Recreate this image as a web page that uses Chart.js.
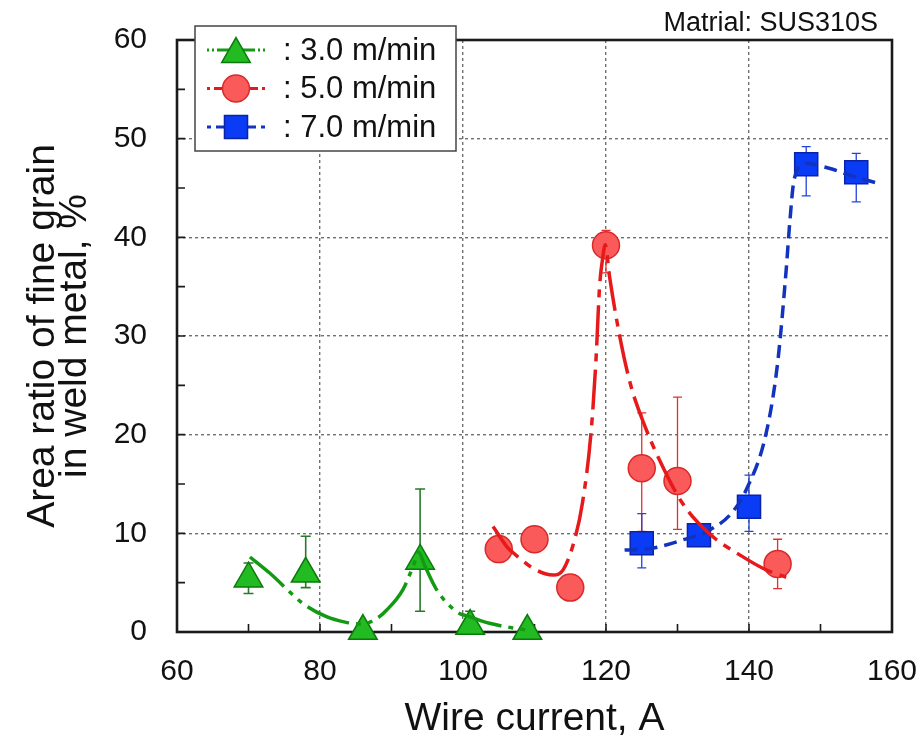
<!DOCTYPE html>
<html lang="en">
<head>
<meta charset="UTF-8" />
<title>Area ratio of fine grain vs wire current</title>
<script src="https://cdn.jsdelivr.net/npm/chart.js"></script>
<style>
  body { margin: 0; background: #fff; }
  .chart-box { width: 924px; height: 745px; }
</style>
</head>
<body>
<div class="chart-box"><canvas id="grainChart"></canvas></div>
<script>
// axis ticks
const xTicks = [60, 80, 100, 120, 140, 160];
const yTicks = [0, 10, 20, 30, 40, 50, 60];

// measured points, wire feed 3.0 m/min
const x30 = [70, 78, 86, 94, 101, 109];
const y30 = [5.4, 5.9, 0.1, 7.2, 0.6, 0.1];
const lo30 = [3.9, 4.5, null, 2.1, 0, null];
const hi30 = [7.0, 9.7, null, 14.5, 2.1, null];

// measured points, wire feed 5.0 m/min
const x50 = [105, 110, 115, 120, 125, 130, 144];
const y50 = [8.4, 9.4, 4.5, 39.2, 16.6, 15.3, 6.9];
const lo50 = [null, null, null, 36.4, 10.2, 10.4, 4.4];
const hi50 = [null, null, null, 40.7, 22.2, 23.8, 9.4];

// measured points, wire feed 7.0 m/min
const x70 = [125, 133, 140, 148, 155];
const y70 = [9.0, 9.8, 12.7, 47.4, 46.6];
const lo70 = [6.5, null, 10.2, 44.2, 43.6];
const hi70 = [12.0, null, 15.9, 49.2, 48.5];

// hand-drawn trend curves
const fit30X = [70.2, 73.0, 77.6, 80.9, 83.5, 85.9, 88.0, 89.3, 91.6, 93.2, 93.8, 94.6, 96.3, 99.1, 100.9, 103.7, 108.8];
const fit30Y = [7.6, 5.95, 2.9, 1.55, 1.0, 0.8, 1.4, 2.2, 4.3, 7.0, 8.1, 6.8, 4.3, 2.06, 1.55, 0.88, 0.2];
const fit50X = [104.2, 106.3, 107.4, 109.8, 112.6, 114.0, 115.6, 116.7, 117.9, 118.6, 119.1, 119.5, 119.9, 120.5, 122.1, 123.5, 125.1, 127.5, 130.7, 134.4, 139.1, 142.4, 145.2];
const fit50Y = [10.7, 8.5, 7.8, 6.46, 5.78, 6.3, 9.33, 13.05, 20.15, 27.6, 35.0, 37.7, 39.25, 36.0, 29.3, 24.9, 21.5, 17.4, 13.05, 10.0, 7.64, 6.3, 5.55];
const fit70X = [122.6, 126.5, 130.7, 134.4, 137.5, 139.6, 142.4, 144.0, 145.2, 145.7, 146.3, 147.9, 151.2, 154.5, 157.9];
const fit70Y = [8.3, 8.5, 9.33, 10.3, 12.0, 14.4, 20.15, 27.25, 36.7, 41.5, 45.8, 47.5, 47.0, 46.2, 45.5];

const seriesLabels = [': 3.0 m/min', ': 5.0 m/min', ': 7.0 m/min'];

const FONT = "'Liberation Sans', Arial, sans-serif";
const toPts = (xs, ys) => xs.map((x, i) => ({ x: x, y: ys[i] }));

const styles = [
  { line: '#129a12', fill: '#22bb22', edge: '#0b7a0b', err: '#2a7a2a', shape: 'triangle', r: 16.5, dash: [45, 7, 5, 7, 5, 7], legendDash: [2, 3, 2, 3, 40] },
  { line: '#e61a1a', fill: '#fa5a5a', edge: '#d82a2a', err: '#e23030', shape: 'circle', r: 13.5, dash: [40, 8, 8, 8], legendDash: [3, 4, 40] },
  { line: '#1233c0', fill: '#0a3cf5', edge: '#0a23a8', err: '#2244dd', shape: 'rect', r: 16.3, dash: [13, 7], legendDash: [4, 5, 8, 40] }
];

const errorSets = [
  { xs: x30, lo: lo30, hi: hi30, color: styles[0].err, width: 1.6, cap: 5 },
  { xs: x50, lo: lo50, hi: hi50, color: styles[1].err, width: 1.3, cap: 4.5 },
  { xs: x70, lo: lo70, hi: hi70, color: styles[2].err, width: 1.3, cap: 4.5 }
];

function drawMarker(ctx, shape, x, y, r) {
  ctx.beginPath();
  if (shape === 'triangle') {
    ctx.moveTo(x, y - r);
    ctx.lineTo(x + r * 0.866, y + r / 2);
    ctx.lineTo(x - r * 0.866, y + r / 2);
    ctx.closePath();
  } else if (shape === 'rect') {
    const s = r * Math.SQRT1_2;
    ctx.rect(x - s, y - s, 2 * s, 2 * s);
  } else {
    ctx.arc(x, y, r, 0, Math.PI * 2);
  }
  ctx.fill();
  ctx.stroke();
}

// plot frame and inward tick marks
const framePlugin = {
  id: 'frame',
  beforeDatasetsDraw(chart) {
    const { ctx, chartArea: a, scales: { x, y } } = chart;
    ctx.save();
    ctx.strokeStyle = '#1a1a1a';
    ctx.lineWidth = 1.6;
    ctx.beginPath();
    for (let v = 70; v < 160; v += 10) {
      const px = x.getPixelForValue(v);
      ctx.moveTo(px, a.bottom);
      ctx.lineTo(px, a.bottom - 8);
    }
    for (let v = 5; v < 60; v += 5) {
      const py = y.getPixelForValue(v);
      ctx.moveTo(a.left, py);
      ctx.lineTo(a.left + 8, py);
    }
    ctx.stroke();
    ctx.lineWidth = 2.6;
    ctx.strokeRect(a.left, a.top, a.right - a.left, a.bottom - a.top);
    ctx.restore();
  }
};

// vertical error bars with caps
const errorBarPlugin = {
  id: 'errorBars',
  beforeDatasetsDraw(chart) {
    const { ctx, scales: { x, y } } = chart;
    ctx.save();
    errorSets.forEach(set => {
      ctx.strokeStyle = set.color;
      ctx.lineWidth = set.width;
      set.xs.forEach((xv, i) => {
        const lo = set.lo[i], hi = set.hi[i];
        if (lo === null && hi === null) return;
        const px = x.getPixelForValue(xv);
        const pLo = y.getPixelForValue(lo === null ? hi : lo);
        const pHi = y.getPixelForValue(hi === null ? lo : hi);
        ctx.beginPath();
        ctx.moveTo(px, pLo); ctx.lineTo(px, pHi);
        if (lo !== null) { ctx.moveTo(px - set.cap, pLo); ctx.lineTo(px + set.cap, pLo); }
        if (hi !== null) { ctx.moveTo(px - set.cap, pHi); ctx.lineTo(px + set.cap, pHi); }
        ctx.stroke();
      });
    });
    ctx.restore();
  }
};

// boxed legend inside the plot and material note
const legendPlugin = {
  id: 'boxLegend',
  afterDatasetsDraw(chart) {
    const { ctx } = chart;
    ctx.save();
    ctx.fillStyle = '#fff';
    ctx.strokeStyle = '#444';
    ctx.lineWidth = 1.5;
    ctx.fillRect(195, 26, 261, 125);
    ctx.strokeRect(195, 26, 261, 125);
    const rows = [50, 88.5, 127];
    styles.forEach((s, i) => {
      const ry = rows[i];
      ctx.strokeStyle = s.line;
      ctx.lineWidth = 3;
      ctx.setLineDash(s.legendDash);
      ctx.beginPath(); ctx.moveTo(207, ry); ctx.lineTo(236, ry); ctx.stroke();
      ctx.beginPath(); ctx.moveTo(265, ry); ctx.lineTo(236, ry); ctx.stroke();
      ctx.setLineDash([]);
      ctx.fillStyle = s.fill;
      ctx.strokeStyle = s.edge;
      ctx.lineWidth = 1.5;
      drawMarker(ctx, s.shape, 236, s.shape === 'triangle' ? ry + s.r / 4 : ry, s.r);
      ctx.fillStyle = '#111';
      ctx.font = '31px ' + FONT;
      ctx.textAlign = 'left';
      ctx.textBaseline = 'middle';
      ctx.fillText(seriesLabels[i], 283, ry + 1);
    });
    ctx.font = '27px ' + FONT;
    ctx.textAlign = 'right';
    ctx.textBaseline = 'alphabetic';
    ctx.fillStyle = '#111';
    ctx.fillText('Matrial: SUS310S', 878, 31);
    ctx.restore();
  }
};

function curveSet(xs, ys, s) {
  return {
    type: 'line',
    data: toPts(xs, ys),
    borderColor: s.line,
    borderWidth: 3.5,
    borderDash: s.dash,
    pointRadius: 0,
    cubicInterpolationMode: 'monotone',
    fill: false,
    order: 0
  };
}

function markerSet(xs, ys, s) {
  return {
    type: 'line',
    data: toPts(xs, ys),
    showLine: false,
    pointStyle: s.shape,
    pointRadius: s.r,
    pointBackgroundColor: s.fill,
    pointBorderColor: s.edge,
    pointBorderWidth: 1.5,
    clip: false,
    order: 1
  };
}

// keep the plot box fixed: no extra room for overhanging tick labels
function fixX(scale) {
  scale.height = 113;
  scale.paddingLeft = 0;
  scale.paddingRight = 0;
}
function fixY(scale) {
  scale.width = 177;
  scale.paddingTop = 0;
  scale.paddingBottom = 0;
}

new Chart(document.getElementById('grainChart'), {
  type: 'line',
  data: {
    datasets: [
      curveSet(fit30X, fit30Y, styles[0]),
      curveSet(fit50X, fit50Y, styles[1]),
      curveSet(fit70X, fit70Y, styles[2]),
      markerSet(x30, y30, styles[0]),
      markerSet(x50, y50, styles[1]),
      markerSet(x70, y70, styles[2])
    ]
  },
  options: {
    responsive: true,
    maintainAspectRatio: false,
    animation: false,
    layout: { padding: { left: 0, top: 40, right: 32, bottom: 0 } },
    plugins: { legend: { display: false }, tooltip: { enabled: false } },
    scales: {
      x: {
        type: 'linear',
        min: xTicks[0],
        max: xTicks[xTicks.length - 1],
        afterBuildTicks: scale => { scale.ticks = xTicks.map(v => ({ value: v })); },
        afterFit: fixX,
        grid: { color: '#707070', lineWidth: 1.4, drawTicks: false },
        border: { display: false, dash: [3, 3] },
        ticks: { color: '#111', padding: 22, font: { family: FONT, size: 30 } },
        title: {
          display: true,
          text: 'Wire current, A',
          color: '#111',
          font: { family: FONT, size: 39, lineHeight: 1.2 },
          padding: { top: 0, bottom: 2 }
        }
      },
      y: {
        min: yTicks[0],
        max: yTicks[yTicks.length - 1],
        afterBuildTicks: scale => { scale.ticks = yTicks.map(v => ({ value: v })); },
        afterFit: fixY,
        grid: { color: '#707070', lineWidth: 1.4, drawTicks: false },
        border: { display: false, dash: [3, 3] },
        ticks: { color: '#111', padding: 30, font: { family: FONT, size: 30 } },
        title: {
          display: true,
          text: ['Area ratio of fine grain', 'in weld metal, %'],
          color: '#111',
          font: { family: FONT, size: 39, lineHeight: '32px' },
          padding: { top: 27, bottom: 0 }
        }
      }
    }
  },
  plugins: [framePlugin, errorBarPlugin, legendPlugin]
});
</script>
</body>
</html>
